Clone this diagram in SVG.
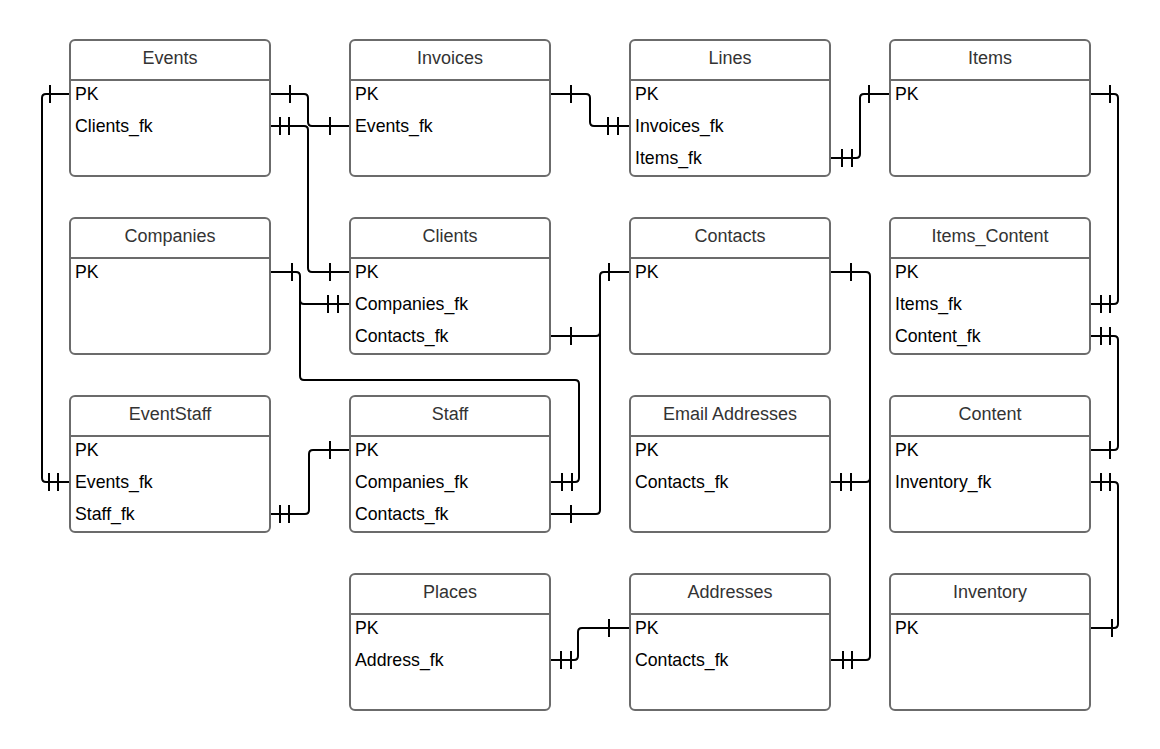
<svg xmlns="http://www.w3.org/2000/svg" width="1160" height="749" viewBox="0 0 1160 749">
<style>
.box{fill:#fff;stroke:#6b6b6b;stroke-width:2}
.div{stroke:#6b6b6b;stroke-width:2}
.title{font-family:"Liberation Sans",Arial,sans-serif;font-size:18px;fill:#333;text-anchor:middle}
.field{font-family:"Liberation Sans",Arial,sans-serif;font-size:17.7px;fill:#000}
.conn{fill:none;stroke:#000;stroke-width:2}
.bar{stroke:#000;stroke-width:2}
</style>
<rect width="1160" height="749" fill="#fff"/>
<g id="connectors">
<path class="conn" d="M270,94 H304 Q308,94 308,98 V122 Q308,126 312,126 H350"/>
<path class="bar" d="M290,85 V103 M330,117 V135"/>
<path class="conn" d="M270,126 H304 Q308,126 308,130 V268 Q308,272 312,272 H350"/>
<path class="bar" d="M280,117 V135 M289,117 V135 M330,263 V281"/>
<path class="conn" d="M70,94 H46 Q42,94 42,98 V478 Q42,482 46,482 H70"/>
<path class="bar" d="M50,85 V103 M49,473 V491 M58,473 V491"/>
<path class="conn" d="M270,514 H305 Q309,514 309,510 V454 Q309,450 313,450 H350"/>
<path class="bar" d="M280,505 V523 M289,505 V523 M330,441 V459"/>
<path class="conn" d="M550,94 H586 Q590,94 590,98 V122 Q590,126 594,126 H630"/>
<path class="bar" d="M571,85 V103 M608,117 V135 M618,117 V135"/>
<path class="conn" d="M830,158 H856 Q860,158 860,154 V98 Q860,94 864,94 H890"/>
<path class="bar" d="M842,149 V167 M852,149 V167 M869,85 V103"/>
<path class="conn" d="M270,272 H296 Q300,272 300,276 V300 Q300,304 304,304 H350"/>
<path class="bar" d="M292,263 V281 M328,295 V313 M338,295 V313"/>
<path class="conn" d="M300,300 V376 Q300,380 304,380 H575 Q579,380 579,384 V478 Q579,482 575,482 H550"/>
<path class="bar" d="M562,473 V491 M572,473 V491"/>
<path class="conn" d="M630,272 H604 Q600,272 600,276 V332 Q600,336 596,336 H550"/>
<path class="bar" d="M609,263 V281 M571,327 V345"/>
<path class="conn" d="M600,330 V510 Q600,514 596,514 H550"/>
<path class="bar" d="M571,505 V523"/>
<path class="conn" d="M830,272 H866 Q870,272 870,276 V478 Q870,482 866,482 H830"/>
<path class="bar" d="M851,263 V281 M841,473 V491 M851,473 V491"/>
<path class="conn" d="M870,476 V656 Q870,660 866,660 H830"/>
<path class="bar" d="M843,651 V669 M852,651 V669"/>
<path class="conn" d="M550,660 H574 Q578,660 578,656 V632 Q578,628 582,628 H630"/>
<path class="bar" d="M561,651 V669 M571,651 V669 M609,619 V637"/>
<path class="conn" d="M1090,94 H1114 Q1118,94 1118,98 V300 Q1118,304 1114,304 H1090"/>
<path class="bar" d="M1110,85 V103 M1101,295 V313 M1110,295 V313"/>
<path class="conn" d="M1090,336 H1114 Q1118,336 1118,340 V446 Q1118,450 1114,450 H1090"/>
<path class="bar" d="M1101,327 V345 M1110,327 V345 M1110,441 V459"/>
<path class="conn" d="M1090,482 H1114 Q1118,482 1118,486 V624 Q1118,628 1114,628 H1090"/>
<path class="bar" d="M1101,473 V491 M1110,473 V491 M1112,619 V637"/>
</g>
<g id="Events"><rect class="box" x="70" y="40" width="200" height="136" rx="5"/><line class="div" x1="70" y1="80" x2="270" y2="80"/><text class="title" x="170" y="64">Events</text><text class="field" x="75" y="100">PK</text><text class="field" x="75" y="132">Clients_fk</text></g>
<g id="Invoices"><rect class="box" x="350" y="40" width="200" height="136" rx="5"/><line class="div" x1="350" y1="80" x2="550" y2="80"/><text class="title" x="450" y="64">Invoices</text><text class="field" x="355" y="100">PK</text><text class="field" x="355" y="132">Events_fk</text></g>
<g id="Lines"><rect class="box" x="630" y="40" width="200" height="136" rx="5"/><line class="div" x1="630" y1="80" x2="830" y2="80"/><text class="title" x="730" y="64">Lines</text><text class="field" x="635" y="100">PK</text><text class="field" x="635" y="132">Invoices_fk</text><text class="field" x="635" y="164">Items_fk</text></g>
<g id="Items"><rect class="box" x="890" y="40" width="200" height="136" rx="5"/><line class="div" x1="890" y1="80" x2="1090" y2="80"/><text class="title" x="990" y="64">Items</text><text class="field" x="895" y="100">PK</text></g>
<g id="Companies"><rect class="box" x="70" y="218" width="200" height="136" rx="5"/><line class="div" x1="70" y1="258" x2="270" y2="258"/><text class="title" x="170" y="242">Companies</text><text class="field" x="75" y="278">PK</text></g>
<g id="Clients"><rect class="box" x="350" y="218" width="200" height="136" rx="5"/><line class="div" x1="350" y1="258" x2="550" y2="258"/><text class="title" x="450" y="242">Clients</text><text class="field" x="355" y="278">PK</text><text class="field" x="355" y="310">Companies_fk</text><text class="field" x="355" y="342">Contacts_fk</text></g>
<g id="Contacts"><rect class="box" x="630" y="218" width="200" height="136" rx="5"/><line class="div" x1="630" y1="258" x2="830" y2="258"/><text class="title" x="730" y="242">Contacts</text><text class="field" x="635" y="278">PK</text></g>
<g id="Items_Content"><rect class="box" x="890" y="218" width="200" height="136" rx="5"/><line class="div" x1="890" y1="258" x2="1090" y2="258"/><text class="title" x="990" y="242">Items_Content</text><text class="field" x="895" y="278">PK</text><text class="field" x="895" y="310">Items_fk</text><text class="field" x="895" y="342">Content_fk</text></g>
<g id="EventStaff"><rect class="box" x="70" y="396" width="200" height="136" rx="5"/><line class="div" x1="70" y1="436" x2="270" y2="436"/><text class="title" x="170" y="420">EventStaff</text><text class="field" x="75" y="456">PK</text><text class="field" x="75" y="488">Events_fk</text><text class="field" x="75" y="520">Staff_fk</text></g>
<g id="Staff"><rect class="box" x="350" y="396" width="200" height="136" rx="5"/><line class="div" x1="350" y1="436" x2="550" y2="436"/><text class="title" x="450" y="420">Staff</text><text class="field" x="355" y="456">PK</text><text class="field" x="355" y="488">Companies_fk</text><text class="field" x="355" y="520">Contacts_fk</text></g>
<g id="Email_Addresses"><rect class="box" x="630" y="396" width="200" height="136" rx="5"/><line class="div" x1="630" y1="436" x2="830" y2="436"/><text class="title" x="730" y="420">Email Addresses</text><text class="field" x="635" y="456">PK</text><text class="field" x="635" y="488">Contacts_fk</text></g>
<g id="Content"><rect class="box" x="890" y="396" width="200" height="136" rx="5"/><line class="div" x1="890" y1="436" x2="1090" y2="436"/><text class="title" x="990" y="420">Content</text><text class="field" x="895" y="456">PK</text><text class="field" x="895" y="488">Inventory_fk</text></g>
<g id="Places"><rect class="box" x="350" y="574" width="200" height="136" rx="5"/><line class="div" x1="350" y1="614" x2="550" y2="614"/><text class="title" x="450" y="598">Places</text><text class="field" x="355" y="634">PK</text><text class="field" x="355" y="666">Address_fk</text></g>
<g id="Addresses"><rect class="box" x="630" y="574" width="200" height="136" rx="5"/><line class="div" x1="630" y1="614" x2="830" y2="614"/><text class="title" x="730" y="598">Addresses</text><text class="field" x="635" y="634">PK</text><text class="field" x="635" y="666">Contacts_fk</text></g>
<g id="Inventory"><rect class="box" x="890" y="574" width="200" height="136" rx="5"/><line class="div" x1="890" y1="614" x2="1090" y2="614"/><text class="title" x="990" y="598">Inventory</text><text class="field" x="895" y="634">PK</text></g>
</svg>
